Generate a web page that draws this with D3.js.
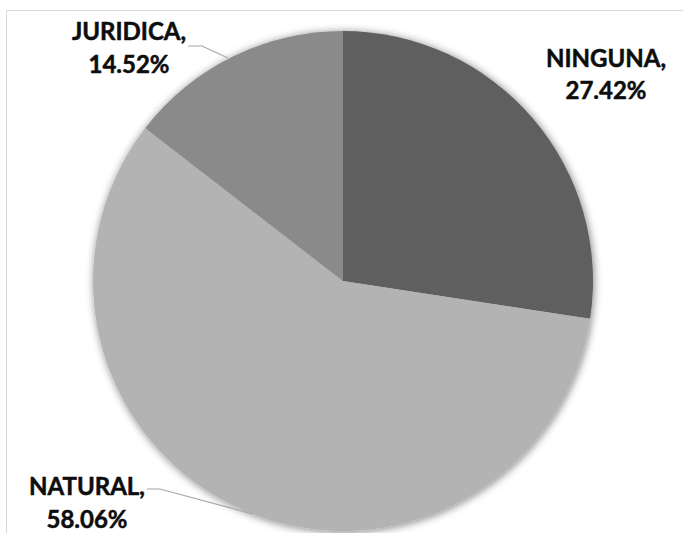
<!DOCTYPE html>
<html>
<head>
<meta charset="utf-8">
<script src="https://cdn.jsdelivr.net/npm/d3@7"></script>
<style>
  html, body { margin: 0; padding: 0; background: #fff; }
  svg { display: block; }
</style>
</head>
<body>
<svg id="chart" width="683" height="533"></svg>
<script>
const categories = ["NINGUNA", "NATURAL", "JURIDICA"];
const values = [27.42, 58.06, 14.52];
const colors = ["#5f5f5f", "#b3b3b3", "#8a8a8a"];
const labelText = ["27.42%", "58.06%", "14.52%"];

const W = 683, H = 533;
const cx = 343, cy = 281, R = 250;

const svg = d3.select("#chart");

// frame
svg.append("rect")
  .attr("x", 6.5).attr("y", 10.5)
  .attr("width", 800).attr("height", 800)
  .attr("fill", "none").attr("stroke", "#d9d9d9").attr("stroke-width", 1);

const defs = svg.append("defs");
const f = defs.append("filter").attr("id", "shadow")
  .attr("x", "-10%").attr("y", "-10%").attr("width", "120%").attr("height", "120%");
f.append("feGaussianBlur").attr("in", "SourceAlpha").attr("stdDeviation", 4).attr("result", "b");
f.append("feOffset").attr("in", "b").attr("dx", 1).attr("dy", 1).attr("result", "o");
f.append("feComponentTransfer").attr("in", "o").attr("result", "s")
  .append("feFuncA").attr("type", "linear").attr("slope", 0.5);
const m = f.append("feMerge");
m.append("feMergeNode").attr("in", "s");
m.append("feMergeNode").attr("in", "SourceGraphic");

const data = categories.map((c, i) => ({ cat: c, value: values[i], color: colors[i], label: labelText[i] }));

const pie = d3.pie().sort(null).value(d => d.value);
const arc = d3.arc().innerRadius(0).outerRadius(R);
const arcs = pie(data);

const g = svg.append("g").attr("transform", `translate(${cx},${cy})`);
g.append("g").attr("filter", "url(#shadow)")
  .selectAll("path").data(arcs).join("path")
  .attr("d", arc)
  .attr("fill", d => d.data.color);

// label layout
const labelPos = {
  "NINGUNA":  { x: 606, y1: 67,  y2: 99,  line: null },
  "NATURAL":  { x: 87,  y1: 495, y2: 528, line: [[147, 489], [160, 489], [253, 514]] },
  "JURIDICA": { x: 129, y1: 40,  y2: 73,  line: [[188, 46], [202, 46], [228, 58]] }
};

const lineGen = d3.line();
arcs.forEach(a => {
  const p = labelPos[a.data.cat];
  if (p.line) {
    svg.append("path")
      .attr("d", lineGen(p.line))
      .attr("fill", "none")
      .attr("stroke", "#a6a6a6")
      .attr("stroke-width", 1.2);
  }
  const t = svg.append("text")
    .attr("text-anchor", "middle")
    .attr("font-family", "Lato, 'Open Sans', sans-serif")
    .attr("font-weight", "bold")
    .attr("font-size", 24)
    .attr("fill", "#0d0d0d")
    .attr("stroke", "#0d0d0d")
    .attr("stroke-width", 0.5);
  t.append("tspan").attr("x", p.x).attr("y", p.y1).text(a.data.cat + ",");
  t.append("tspan").attr("x", p.x).attr("y", p.y2).text(a.data.label);
});
</script>
</body>
</html>
